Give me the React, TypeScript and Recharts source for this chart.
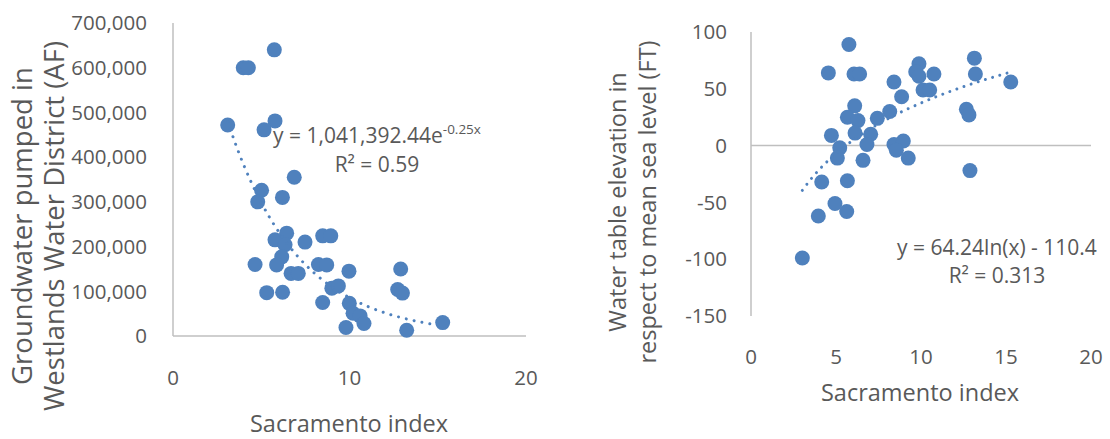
import React from "react";
import { ScatterChart, Scatter, XAxis, YAxis, ReferenceLine } from "recharts";

const BLUE = "#4F81BD";
const TEXT = "#595959";
const AXIS = "#BFBFBF";
const FONT = '"Open Sans", "Noto Sans", sans-serif';

// Sacramento index vs. groundwater pumped in Westlands (AF)
const pumpedIndex = [
  3.1, 3.98, 4.27, 5.74, 5.78, 5.16, 6.87, 5.02, 6.2, 4.8, 6.44, 5.78, 6.35,
  7.48, 8.48, 8.94, 6.16, 5.87, 4.65, 8.24, 8.71, 6.69, 7.1, 9.97, 12.9, 5.31,
  6.21, 9.0, 9.37, 12.73, 13.0, 8.48, 9.99, 10.2, 10.6, 10.82, 9.8, 13.24, 15.28,
];
const pumpedAF = [
  472000, 600000, 600000, 640000, 481000, 461000, 355000, 326000, 310000,
  300000, 230000, 215000, 204000, 210000, 224000, 224000, 177000, 159000,
  160000, 160000, 159000, 140000, 140000, 145000, 150000, 97000, 98000, 107000,
  112000, 104000, 96000, 75000, 73000, 51000, 45000, 28000, 19000, 13000, 30000,
];

// Sacramento index vs. water table elevation (FT above mean sea level)
const elevIndex = [
  5.76, 4.55, 6.06, 6.39, 9.88, 9.69, 9.88, 10.76, 13.14, 13.2, 15.28, 8.41,
  10.12, 10.51, 8.86, 6.1, 5.67, 6.29, 7.43, 8.16, 6.12, 7.04, 4.73, 6.82, 5.22,
  8.41, 8.96, 8.55, 5.08, 6.59, 9.25, 12.88, 12.67, 12.82, 4.16, 5.67, 4.94,
  5.63, 3.96, 3.02,
];
const elevFT = [
  89, 64, 63, 63, 72, 65, 61, 63, 77, 63, 56, 56, 49, 49, 43, 35, 25, 22, 24, 30,
  11, 10, 9, 1, -2, 1, 4, -4, -11, -13, -11, -22, 32, 27, -32, -31, -51, -58,
  -62, -99,
];

const pumpedTicks = [0, 100000, 200000, 300000, 400000, 500000, 600000, 700000];
const elevTicks = [-150, -100, -50, 0, 50, 100];
const indexTicksLeft = [0, 10, 20];
const indexTicksRight = [0, 5, 10, 15, 20];

// fitted trendlines: y = a * e^(b x)  and  y = a * ln(x) + b
const EXP_A = 1041392.44;
const EXP_B = -0.25;
const LOG_A = 64.24;
const LOG_B = -110.4;
const trendXLeft = [3.1, 3.5, 4, 4.5, 5, 5.5, 6, 6.5, 7, 7.5, 8, 9, 10, 11, 12, 13, 14, 15.28];
const trendXRight = [3.02, 3.5, 4, 4.5, 5, 5.5, 6, 7, 8, 9, 10, 11, 12, 13, 14, 15.28];

const pumpedData = pumpedIndex.map((x, i) => ({ x, y: pumpedAF[i] }));
const elevData = elevIndex.map((x, i) => ({ x, y: elevFT[i] }));
const expTrend = trendXLeft.map((x) => ({ x, y: EXP_A * Math.exp(EXP_B * x) }));
const logTrend = trendXRight.map((x) => ({ x, y: LOG_A * Math.log(x) + LOG_B }));

const tickStyle = { fill: TEXT, fontSize: 20.5, fontFamily: FONT };

const Dot = (props: any) => <circle cx={props.cx} cy={props.cy} r={7.5} fill={BLUE} />;
const NoDot = () => <g />;

const trendLine = (gap: number) => ({
  stroke: BLUE,
  strokeWidth: 3,
  strokeDasharray: `0.01 ${gap}`,
  strokeLinecap: "round",
});

const App: React.FC = () => {
  return (
    <div
      style={{
        position: "absolute",
        left: 0,
        top: 0,
        width: 1110,
        height: 439,
        background: "#fff",
      }}
    >
      <div style={{ position: "absolute", left: 0, top: 0 }}>
        <ScatterChart width={560} height={439} margin={{ top: 23, right: 34, bottom: 0, left: 0 }}>
          <XAxis
            dataKey="x"
            type="number"
            domain={[0, 20]}
            ticks={indexTicksLeft}
            interval={0}
            height={103}
            axisLine={{ stroke: AXIS, strokeWidth: 1.5 }}
            tickLine={false}
            tickSize={0}
            tickMargin={34}
            tick={tickStyle}
          />
          <YAxis
            dataKey="y"
            type="number"
            domain={[0, 700000]}
            ticks={pumpedTicks}
            interval={0}
            width={173}
            tickFormatter={(v: number) => v.toLocaleString("en-US")}
            axisLine={{ stroke: AXIS, strokeWidth: 1.5 }}
            tickLine={false}
            tickSize={0}
            tickMargin={26}
            tick={tickStyle}
          />
          <Scatter data={pumpedData} shape={Dot} isAnimationActive={false} />
          <Scatter
            data={expTrend}
            shape={NoDot}
            line={trendLine(8)}
            lineJointType="monotoneX"
            isAnimationActive={false}
          />
        </ScatterChart>
      </div>

      <div style={{ position: "absolute", left: 560, top: 0 }}>
        <ScatterChart width={550} height={439} margin={{ top: 32, right: 19, bottom: 0, left: 0 }}>
          <XAxis
            dataKey="x"
            type="number"
            domain={[0, 20]}
            ticks={indexTicksRight}
            interval={0}
            height={123}
            axisLine={false}
            tickLine={false}
            tickSize={0}
            tickMargin={33}
            tick={tickStyle}
          />
          <YAxis
            dataKey="y"
            type="number"
            domain={[-150, 100]}
            ticks={elevTicks}
            interval={0}
            width={191}
            axisLine={{ stroke: AXIS, strokeWidth: 1.5 }}
            tickLine={false}
            tickSize={0}
            tickMargin={24}
            tick={tickStyle}
          />
          <ReferenceLine y={0} stroke={AXIS} strokeWidth={1.5} />
          <Scatter data={elevData} shape={Dot} isAnimationActive={false} />
          <Scatter
            data={logTrend}
            shape={NoDot}
            line={trendLine(7.5)}
            lineJointType="monotoneX"
            isAnimationActive={false}
          />
        </ScatterChart>
      </div>

      {/* axis titles and trendline equations */}
      <svg
        width={1110}
        height={439}
        style={{ position: "absolute", left: 0, top: 0, pointerEvents: "none" }}
        fontFamily={FONT}
        fill={TEXT}
      >
        <g fontSize={27.5} textAnchor="middle">
          <text transform="translate(32,226) rotate(-90)">Groundwater pumped in</text>
          <text transform="translate(64,226) rotate(-90)">Westlands Water District (AF)</text>
        </g>
        <g fontSize={23.5} textAnchor="middle">
          <text x={349} y={432}>Sacramento index</text>
          <text transform="translate(626,202) rotate(-90)">Water table elevation in</text>
          <text transform="translate(656,202) rotate(-90)">respect to mean sea level (FT)</text>
          <text x={920} y={401}>Sacramento index</text>
        </g>
        <g fontSize={21} textAnchor="middle">
          <text x={377} y={143}>
            y = 1,041,392.44e
            <tspan fontSize={13.5} dy={-9}>-0.25x</tspan>
          </text>
          <text x={377} y={172}>R² = 0.59</text>
          <text x={997} y={255}>y = 64.24ln(x) - 110.4</text>
          <text x={997} y={283}>R² = 0.313</text>
        </g>
      </svg>
    </div>
  );
};

export default App;
